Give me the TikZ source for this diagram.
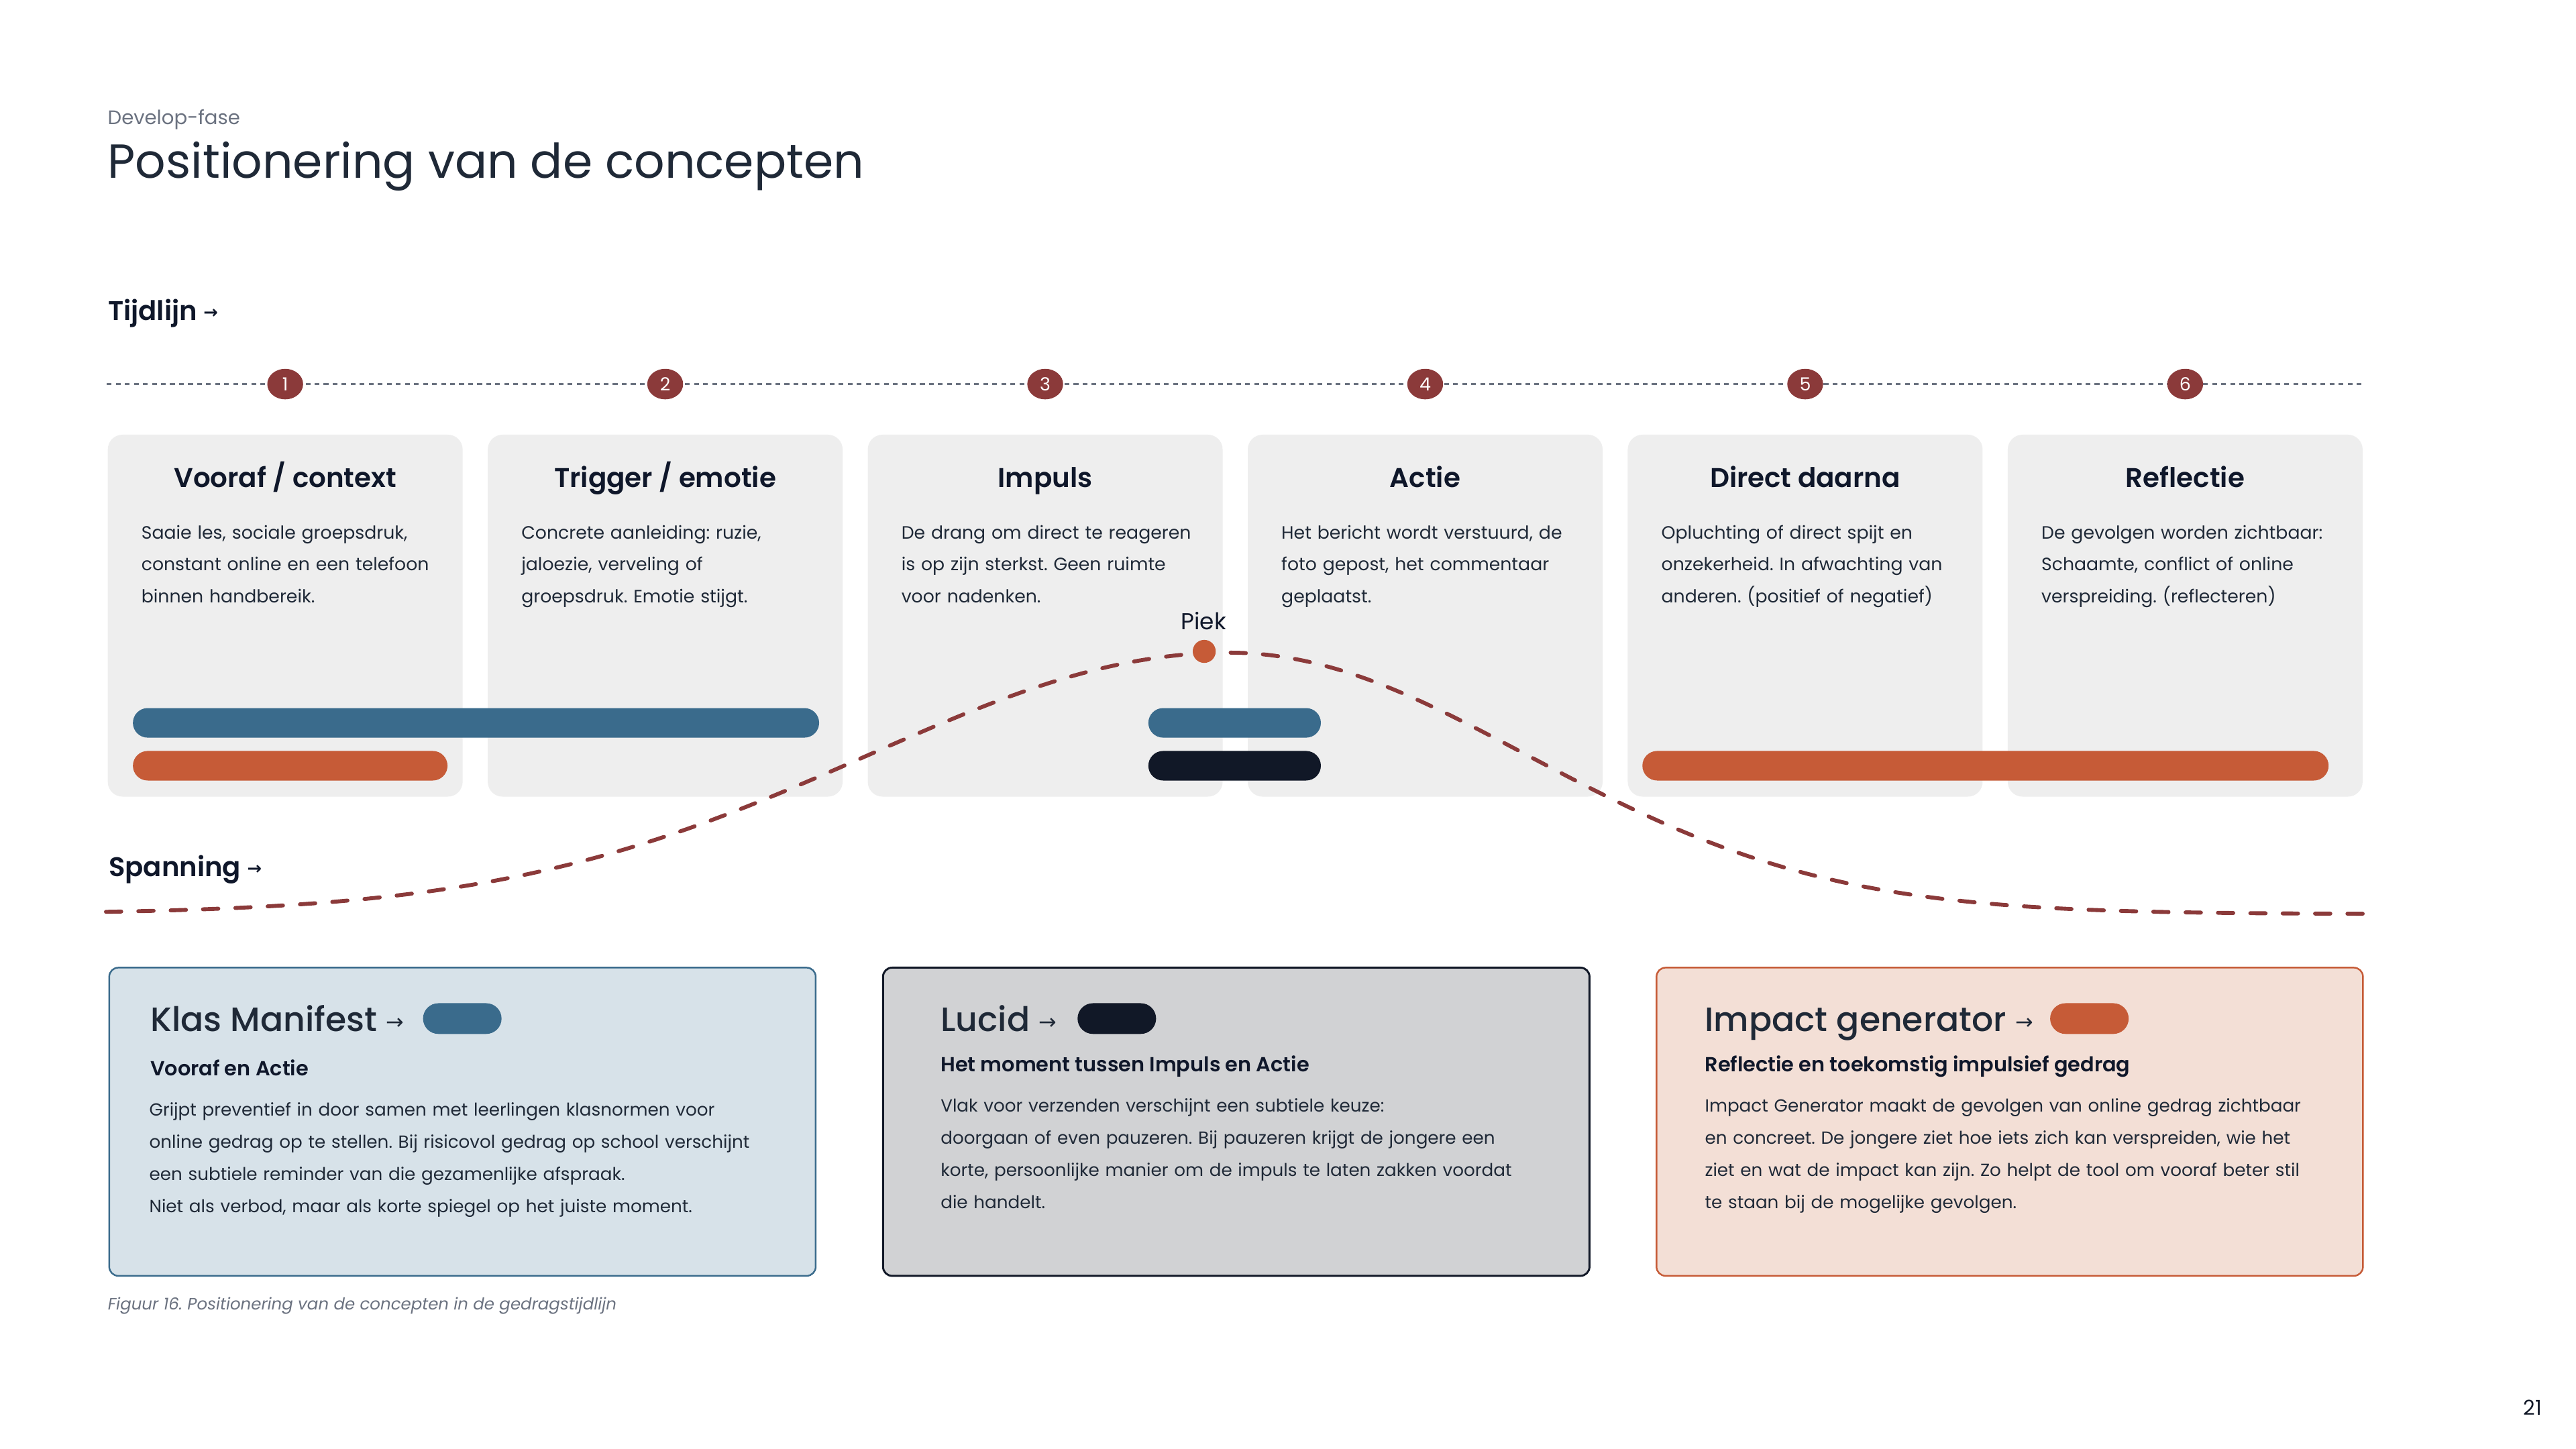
\documentclass[tikz,border=0pt]{standalone}
\usepackage{fontspec}
\setmainfont{Poppins}
\newfontfamily\pmed{Poppins Medium}
\newfontfamily\psemi{Poppins SemiBold}
\newfontfamily\djv{DejaVu Sans}
\newfontfamily\djvb{DejaVu Sans Bold}
\usetikzlibrary{shapes.geometric}
\frenchspacing

\definecolor{cblue}{HTML}{3A6B8C}
\definecolor{corange}{HTML}{C65B37}
\definecolor{cdark}{HTML}{111827}
\definecolor{cred}{HTML}{8B3A3A}
\definecolor{cgrayline}{HTML}{6B7280}
\definecolor{ccard}{HTML}{EEEEEE}
\definecolor{cbluebg}{HTML}{D7E2E9}
\definecolor{cgraybg}{HTML}{D1D2D4}
\definecolor{corangebg}{HTML}{F3DFD6}
\definecolor{ctext}{HTML}{1F2937}
\definecolor{cink}{HTML}{0F172A}
\definecolor{cmuted}{HTML}{6B7280}

\newcommand\fsz[2]{\fontsize{#1}{#2}\selectfont}
\newcommand\secarrow{\raisebox{1.2pt}{\djvb\fsz{10.5}{11}→}}
\newcommand\boxarrow{\raisebox{1.2pt}{\djv\fsz{13}{13}→}}

\tikzset{
  card/.style={fill=ccard, rounded corners=9pt, inner sep=0pt, outer sep=0pt,
    minimum width=216pt, minimum height=220.3pt, anchor=north west},
  cardtitle/.style={font=\psemi\fsz{16.5}{20}, text=cink, anchor=base, inner sep=0pt},
  cardtext/.style={font=\fsz{10.9}{19.5}, text=ctext, anchor=base west, inner sep=0pt,
    text width=205pt, align=left},
  bar/.style={rounded corners=9pt, minimum height=18pt, inner sep=0pt, outer sep=0pt, anchor=west},
  stepnum/.style={ellipse, fill=cred, minimum width=21.8pt, minimum height=18.6pt,
    inner sep=0pt, text=white, font=\fsz{11}{13}},
  tline/.style={draw=cgrayline, line width=1.36pt, dash pattern=on 2.9pt off 2.6pt},
  curve/.style={draw=cred, line width=2.4pt, line cap=round, dash pattern=on 9.3pt off 10.4pt},
  concept/.style={rounded corners=5.5pt, line width=1pt, inner sep=0pt, outer sep=0pt,
    anchor=north west, minimum width=430pt, minimum height=187.6pt},
  ctitle/.style={font=\pmed\fsz{20.6}{24}, text=ctext, anchor=base west, inner sep=0pt},
  csub/.style={font=\psemi\fsz{12.4}{14}, text=cink, anchor=base west, inner sep=0pt},
  cbody/.style={font=\fsz{10.7}{19.6}, text=ctext, anchor=base west, inner sep=0pt,
    text width=410pt, align=left},
  pill/.style={rounded corners=9.35pt, minimum width=47.8pt, minimum height=18.7pt,
    inner sep=0pt, outer sep=0pt},
  section/.style={font=\psemi\fsz{16.4}{18}, text=cink, anchor=base west, inner sep=0pt},
}

\begin{document}
\begin{tikzpicture}[x=1pt, y=-1pt]
\useasboundingbox (0,0) rectangle (1568,882);
\fill[white] (0,0) rectangle (1568,882);

% header
\node[anchor=base west, inner sep=0pt, font=\fsz{11.9}{14}, text=cmuted] (kicker) at (65.4,75.9) {Develop-fase};
\node[anchor=base west, inner sep=0pt, font=\fsz{29.1}{32}, text=ctext] (title) at (65.4,108.5) {Positionering van de concepten};

\node[section] (tijdlijn) at (65.6,195) {Tijdlijn \secarrow};

% timeline
\coordinate (tlA) at (65,233.8);
\coordinate (tlB) at (1438,233.8);
\draw[tline] (tlA) -- (tlB);

% cards
\foreach \i/\t in {1/{Vooraf / context},2/{Trigger / emotie},3/{Impuls},4/{Actie},5/{Direct daarna},6/{Reflectie}}{
  \pgfmathsetmacro\L{65.6+(\i-1)*231.3}
  \pgfmathsetmacro\C{\L+108}
  \node[card] (card\i) at (\L,264.6) {};
  \node[cardtitle] (cardtitle\i) at (\C,296.6) {\t};
  \node[stepnum] (num\i) at (\C,233.8) {\i};
}

\node[cardtext] (text1) at (85.9,327.9) {Saaie les, sociale groepsdruk,\\constant online en een telefoon\\binnen handbereik.};
\node[cardtext] (text2) at (317.2,327.9) {Concrete aanleiding: ruzie,\\jaloezie, verveling of\\groepsdruk. Emotie stijgt.};
\node[cardtext] (text3) at (548.5,327.9) {De drang om direct te reageren\\is op zijn sterkst. Geen ruimte\\voor nadenken.};
\node[cardtext] (text4) at (779.8,327.9) {Het bericht wordt verstuurd, de\\foto gepost, het commentaar\\geplaatst.};
\node[cardtext] (text5) at (1011.1,327.9) {Opluchting of direct spijt en\\onzekerheid. In afwachting van\\anderen. (positief of negatief)};
\node[cardtext] (text6) at (1242.4,327.9) {De gevolgen worden zichtbaar:\\Schaamte, conflict of online\\verspreiding. (reflecteren)};

% bars
\node[bar, fill=cblue, minimum width=417.7pt] (barKM) at (80.9,440) {};
\node[bar, fill=corange, minimum width=191.5pt] (barIG1) at (80.9,466.1) {};
\node[bar, fill=cblue, minimum width=105pt] (barKM2) at (699,440) {};
\node[bar, fill=cdark, minimum width=105pt] (barLU) at (699,466.1) {};
\node[bar, fill=corange, minimum width=417.7pt] (barIG2) at (999.7,466.1) {};

% tension curve
\draw[curve] plot[domain=64.5:1439, samples=320, smooth]
  (\x, {556.3-159*exp(0-((\x-748)/100)*((\x-748)/100)/(((\x<748)?9.68:6.62)))});
\node[circle, fill=corange, minimum size=14pt, inner sep=0pt] (peak) at (733,396.5) {};
\node[anchor=base, inner sep=0pt, font=\fsz{14}{16}, text=cink] (peaklabel) at (732.6,383.3) {Piek};

\node[section] (spanning) at (66,533.3) {Spanning \secarrow};

% concept boxes
\node[concept, fill=cbluebg, draw=cblue] (boxKM) at (66.5,589) {};
\node[concept, fill=cgraybg, draw=cdark, line width=1.2pt] (boxLU) at (537.5,589) {};
\node[concept, fill=corangebg, draw=corange] (boxIG) at (1008.3,589) {};

\node[ctitle] (tKM) at (91.3,627.8) {Klas Manifest \boxarrow};
\node[pill, fill=cblue] (pKM) at (281.4,620) {};
\node[csub] (sKM) at (91.3,654.8) {Vooraf en Actie};
\node[cbody] (bKM) at (90.7,679.1) {Grijpt preventief in door samen met leerlingen klasnormen voor\\online gedrag op te stellen. Bij risicovol gedrag op school verschijnt\\een subtiele reminder van die gezamenlijke afspraak.\\Niet als verbod, maar als korte spiegel op het juiste moment.};

\node[ctitle] (tLU) at (572.4,627.8) {Lucid \boxarrow};
\node[pill, fill=cdark] (pLU) at (679.8,620) {};
\node[csub] (sLU) at (572.4,652.4) {Het moment tussen Impuls en Actie};
\node[cbody] (bLU) at (572.4,677) {Vlak voor verzenden verschijnt een subtiele keuze:\\doorgaan of even pauzeren. Bij pauzeren krijgt de jongere een\\korte, persoonlijke manier om de impuls te laten zakken voordat\\die handelt.};

\node[ctitle] (tIG) at (1037.6,627.8) {Impact generator \boxarrow};
\node[pill, fill=corange] (pIG) at (1271.8,620) {};
\node[csub] (sIG) at (1037.6,652.4) {Reflectie en toekomstig impulsief gedrag};
\node[cbody] (bIG) at (1037.6,677) {Impact Generator maakt de gevolgen van online gedrag zichtbaar\\en concreet. De jongere ziet hoe iets zich kan verspreiden, wie het\\ziet en wat de impact kan zijn. Zo helpt de tool om vooraf beter stil\\te staan bij de mogelijke gevolgen.};

% caption and page number
\node[anchor=base west, inner sep=0pt, font=\itshape\fsz{10}{12}, text=cmuted] (caption) at (65.5,797.3) {Figuur 16. Positionering van de concepten in de gedragstijdlijn};
\node[anchor=base, inner sep=0pt, font=\fsz{12.5}{14}, text=cdark] (page) at (1541.7,861.3) {21};
\end{tikzpicture}
\end{document}
